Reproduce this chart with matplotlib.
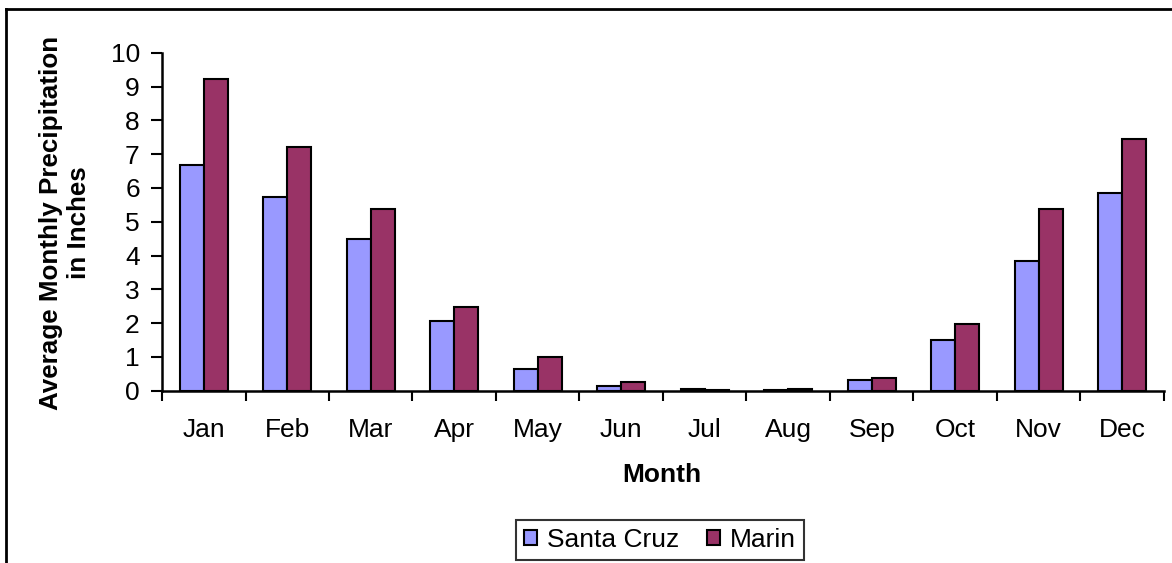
import matplotlib
matplotlib.use("Agg")
import matplotlib.pyplot as plt
import numpy as np
from matplotlib.lines import Line2D

months = ["Jan", "Feb", "Mar", "Apr", "May", "Jun",
          "Jul", "Aug", "Sep", "Oct", "Nov", "Dec"]
santa_cruz = [6.67, 5.72, 4.48, 2.05, 0.63, 0.15, 0.04, 0.03, 0.33, 1.50, 3.83, 5.84]
marin = [9.21, 7.20, 5.37, 2.47, 0.99, 0.26, 0.01, 0.04, 0.39, 1.98, 5.37, 7.44]
y_ticks = list(range(0, 11))

plt.rcParams["font.family"] = ["Liberation Sans", "DejaVu Sans"]
FS = 19

W, H = 1172, 563
fig = plt.figure(figsize=(W / 100, H / 100), dpi=100)
ax = fig.add_axes([162 / W, 1 - 390.7 / H, 1002 / W, 338 / H])

x = np.arange(len(months))
w = 1 / 3.5
ax.bar(x - w / 2, santa_cruz, width=w, color="#9999FF", edgecolor="black",
       linewidth=1.5, label="Santa Cruz", zorder=3)
ax.bar(x + w / 2, marin, width=w, color="#993366", edgecolor="black",
       linewidth=1.5, label="Marin", zorder=3)

ax.set_xlim(-0.5, len(months) - 0.5)
ax.set_ylim(0, 10)
ax.set_yticks(y_ticks)
ax.set_yticklabels([str(t) for t in y_ticks])
ax.set_xticks(np.arange(-0.5, len(months)))
ax.set_xticklabels([])
ax.set_xticks(x, minor=True)
ax.set_xticklabels(months, minor=True)
ax.tick_params(axis="x", which="major", direction="out", length=7, width=1.5)
ax.tick_params(axis="x", which="minor", length=0, pad=20, labelsize=FS)
ax.tick_params(axis="y", direction="out", length=8, width=1.5, labelsize=FS, pad=8)

for s in ["top", "right"]:
    ax.spines[s].set_visible(False)
for s in ["left", "bottom"]:
    ax.spines[s].set_linewidth(1.8)

fig.text(662 / W, 1 - 475 / H, "Month", fontsize=FS, fontweight="bold",
         ha="center", va="center")
fig.text(65 / W, 1 - 223 / H, "Average Monthly Precipitation\nin Inches",
         fontsize=18.7, fontweight="bold", rotation=90, ha="center", va="center",
         multialignment="center", linespacing=1.22)

leg = fig.legend(loc="center", bbox_to_anchor=(660 / W, 1 - 540 / H),
                 ncol=2, frameon=True, fancybox=False, edgecolor="black",
                 fontsize=FS, handlelength=0.5, handleheight=0.5,
                 handletextpad=0.38, columnspacing=1.05, borderpad=0.3,
                 borderaxespad=0)
leg.get_frame().set_linewidth(1.5)

# chart area frame
fig.add_artist(Line2D([5.5 / W, 5.5 / W], [0, 1 - 9 / H],
                      transform=fig.transFigure, color="black", lw=2))
fig.add_artist(Line2D([5.5 / W, 1], [1 - 9 / H, 1 - 9 / H],
                      transform=fig.transFigure, color="black", lw=2))

fig.savefig("out.png", dpi=100)
